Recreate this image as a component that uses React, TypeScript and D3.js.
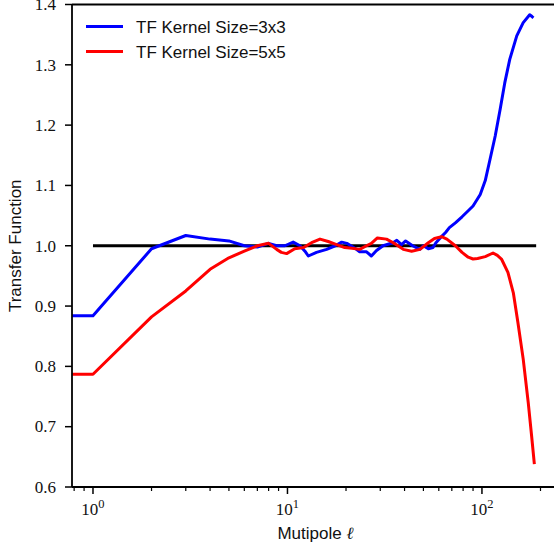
import React from "react";
import * as d3 from "d3";

// ---- data ----
const ELL_3X3 = [0, 1, 2, 3, 4, 5, 6, 7, 8, 8.8, 9.7, 10.7, 11.6, 12.3, 12.8, 14.1, 15.9, 17.6, 19, 20.2, 22.2, 23.5, 25.5, 27, 28.7, 31, 34.9, 36.5, 38.6, 40.5, 44, 47.9, 50, 53, 56, 58, 61, 65, 68, 73, 79, 85, 90, 98, 104, 110, 117, 124, 131, 139, 151, 163, 176, 181, 184];
const TF_3X3 = [0.884, 0.884, 0.995, 1.017, 1.011, 1.008, 1.0, 0.998, 1.004, 1.0, 1.0, 1.006, 1.0, 0.991, 0.983, 0.989, 0.994, 1.0, 1.006, 1.004, 0.996, 0.99, 0.99, 0.983, 0.992, 1.0, 1.005, 1.009, 1.002, 1.008, 1.0, 0.994, 1.0, 0.995, 0.997, 1.005, 1.013, 1.022, 1.03, 1.038, 1.048, 1.058, 1.066, 1.085, 1.108, 1.143, 1.182, 1.226, 1.27, 1.309, 1.348, 1.37, 1.383, 1.38, 1.378];

const ELL_5X5 = [0, 1, 2, 3, 4, 5, 6, 7, 8, 8.8, 9.3, 9.9, 10.9, 12.1, 13.3, 14.7, 16.2, 17.9, 19.7, 21.5, 23.5, 25.5, 27, 29, 32.3, 35, 39.4, 43.5, 48, 53, 57, 62, 66, 73, 79, 85, 90, 95, 104, 114, 120, 126, 136, 145, 153, 163, 173, 180, 186];
const TF_5X5 = [0.787, 0.787, 0.882, 0.925, 0.961, 0.98, 0.991, 1.0, 1.004, 0.994, 0.989, 0.987, 0.995, 0.997, 1.005, 1.011, 1.007, 1.002, 0.997, 0.996, 0.994, 1.0, 1.004, 1.013, 1.011, 1.005, 0.994, 0.991, 0.994, 1.005, 1.012, 1.015, 1.011, 1.0, 0.989, 0.981, 0.978, 0.979, 0.982, 0.988, 0.984, 0.978, 0.956, 0.922, 0.873, 0.812, 0.74, 0.685, 0.638];

const ELL_REF = [1, 190];
const TF_REF = [1.0, 1.0];

const Y_TICKS = [0.6, 0.7, 0.8, 0.9, 1.0, 1.1, 1.2, 1.3, 1.4];
const X_MAJOR = [1, 10, 100];
const X_EXP = ["0", "1", "2"];

const SERIES = [
  { name: "TF Kernel Size=3x3", ell: ELL_3X3, tf: TF_3X3, color: "#0000ff" },
  { name: "TF Kernel Size=5x5", ell: ELL_5X5, tf: TF_5X5, color: "#ff0000" },
];

const W = 554;
const H = 550;
const L = 72;
const R = 559;
const T = 4.5;
const B = 487;

export default function App() {
  const x = d3.scaleLog().domain([0.78, 249]).range([L, R]);
  const y = d3.scaleLinear().domain([0.6, 1.4]).range([B, T]);

  const minor: number[] = [];
  for (const dec of [0.1, 1, 10, 100]) {
    for (let k = 2; k <= 9; k++) {
      const v = dec * k;
      if (v >= 0.78 && v <= 249 && X_MAJOR.indexOf(v) < 0) minor.push(v);
    }
  }

  const line = d3
    .line<[number, number]>()
    .x((d) => x(Math.max(d[0], 1e-3)))
    .y((d) => y(d[1]));

  const pts = (ell: number[], tf: number[]) => ell.map((e, i) => [e, tf[i]] as [number, number]);

  const serif = "'Liberation Serif', 'DejaVu Serif', serif";
  const sans = "'Liberation Sans', Arial, sans-serif";

  return (
    <svg
      width={W}
      height={H}
      style={{ position: "absolute", left: 0, top: 0, background: "#fff" }}
    >
      <defs>
        <clipPath id="plot">
          <rect x={L} y={T} width={R - L} height={B - T} />
        </clipPath>
      </defs>
      <rect x={0} y={0} width={W} height={H} fill="#fff" />

      <g clipPath="url(#plot)">
        <path
          d={line(pts(ELL_REF, TF_REF)) || ""}
          fill="none"
          stroke="#000"
          strokeWidth={3}
        />
        {SERIES.map((s) => (
          <path
            key={s.name}
            d={line(pts(s.ell, s.tf)) || ""}
            fill="none"
            stroke={s.color}
            strokeWidth={3}
            strokeLinejoin="round"
          />
        ))}
      </g>

      {/* spines */}
      <g stroke="#000" strokeWidth={1.8} fill="none">
        <line x1={L} x2={L} y1={T} y2={B} />
        <line x1={L} x2={R} y1={B} y2={B} />
        <line x1={L} x2={R} y1={T} y2={T} />
        <line x1={R} x2={R} y1={T} y2={B} />
      </g>

      {/* y ticks */}
      {Y_TICKS.map((t) => (
        <g key={t}>
          <line x1={L - 7} x2={L} y1={y(t)} y2={y(t)} stroke="#000" strokeWidth={1.5} />
          <text
            x={L - 16}
            y={y(t)}
            dy="0.34em"
            textAnchor="end"
            fontFamily={serif}
            fontSize={17}
            fill="#111"
          >
            {t.toFixed(1)}
          </text>
        </g>
      ))}

      {/* x ticks */}
      {minor.map((t) => (
        <line key={"m" + t} x1={x(t)} x2={x(t)} y1={B} y2={B + 4} stroke="#000" strokeWidth={1.2} />
      ))}
      {X_MAJOR.map((t, i) => (
        <g key={t}>
          <line x1={x(t)} x2={x(t)} y1={B} y2={B + 7} stroke="#000" strokeWidth={1.5} />
          <text
            x={x(t)}
            y={515}
            textAnchor="middle"
            fontFamily={serif}
            fontSize={17}
            fill="#111"
          >
            10
            <tspan dy={-7.5} fontSize={12.5}>
              {X_EXP[i]}
            </tspan>
          </text>
        </g>
      ))}

      {/* axis labels */}
      <text
        x={(L + R) / 2}
        y={539}
        textAnchor="middle"
        fontFamily={sans}
        fontSize={17}
        fill="#111"
      >
        Mutipole{" "}
        <tspan fontFamily={serif} fontStyle="italic">
          ℓ
        </tspan>
      </text>
      <text
        transform={`translate(21,${(T + B) / 2}) rotate(-90)`}
        textAnchor="middle"
        fontFamily={sans}
        fontSize={17}
        fill="#111"
      >
        Transfer Function
      </text>

      {/* legend */}
      {SERIES.map((s, i) => (
        <g key={"lg" + s.name}>
          <line x1={86} x2={123} y1={26.5 + i * 25} y2={26.5 + i * 25} stroke={s.color} strokeWidth={3} />
          <text
            x={136}
            y={26.5 + i * 25}
            dy="0.36em"
            fontFamily={sans}
            fontSize={17}
            fill="#111"
          >
            {s.name}
          </text>
        </g>
      ))}
    </svg>
  );
}
